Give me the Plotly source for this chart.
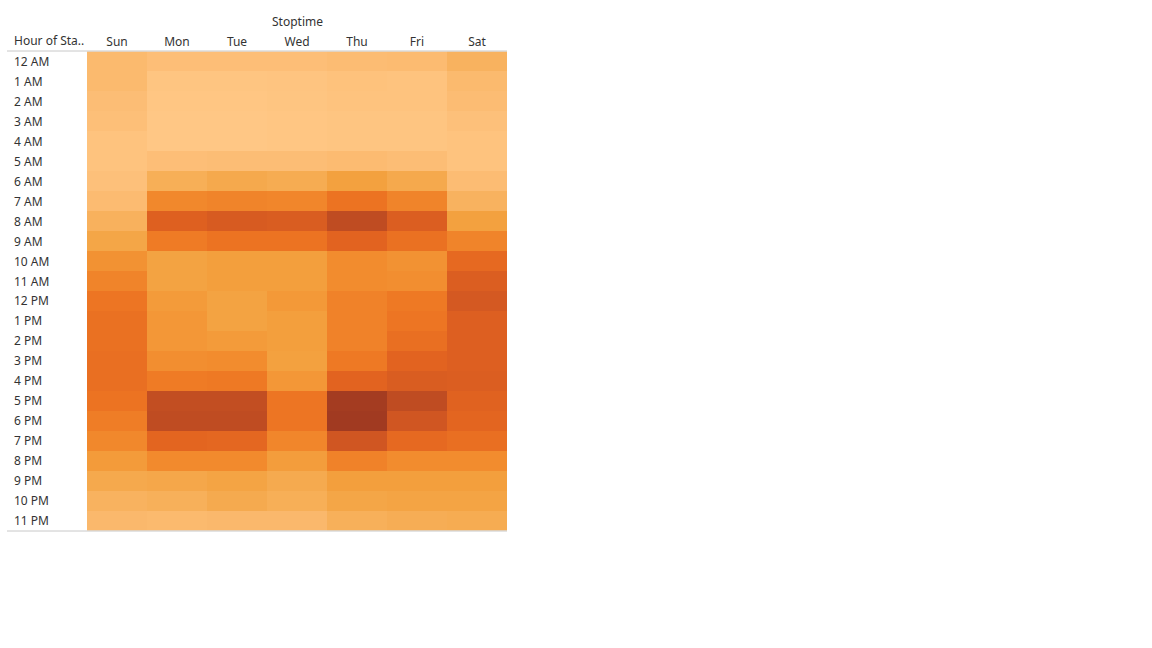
import plotly.graph_objects as go

days = ["Sun", "Mon", "Tue", "Wed", "Thu", "Fri", "Sat"]
hours = ["12 AM", "1 AM", "2 AM", "3 AM", "4 AM", "5 AM", "6 AM", "7 AM", "8 AM", "9 AM",
         "10 AM", "11 AM", "12 PM", "1 PM", "2 PM", "3 PM", "4 PM", "5 PM", "6 PM", "7 PM",
         "8 PM", "9 PM", "10 PM", "11 PM"]

# relative trip volume per hour (rows) and weekday (columns: Sun..Sat)
sun = [12, 12, 9, 7, 4, 4, 6, 11, 19, 27, 37, 44, 51, 53, 53, 54, 54, 52, 47, 42, 33, 25, 18, 13]
mon = [8, 2, 1, 0, 0, 8, 21, 42, 62, 48, 29, 29, 33, 35, 35, 39, 48, 78, 80, 59, 41, 26, 20, 12]
tue = [8, 2, 1, 0, 0, 9, 25, 44, 66, 52, 31, 31, 29, 29, 33, 40, 49, 78, 80, 58, 41, 28, 24, 13]
wed = [8, 3, 2, 1, 1, 9, 23, 43, 65, 52, 31, 31, 34, 31, 31, 30, 35, 51, 51, 43, 32, 24, 21, 13]
thu = [10, 5, 4, 2, 2, 11, 30, 52, 80, 60, 40, 40, 45, 45, 45, 49, 60, 98, 100, 70, 45, 31, 27, 20]
fri = [11, 4, 4, 2, 2, 9, 25, 44, 64, 53, 37, 39, 49, 51, 54, 60, 65, 80, 70, 57, 40, 31, 28, 22]
sat = [18, 12, 10, 6, 4, 4, 10, 18, 30, 44, 57, 64, 68, 63, 63, 63, 64, 61, 59, 54, 40, 31, 28, 23]

cols = [sun, mon, tue, wed, thu, fri, sat]
z = [[cols[d][h] for d in range(7)] for h in range(24)]

colorscale = [
    [0.0, "#ffc785"],
    [0.1, "#fcbc73"],
    [0.2, "#f7b05a"],
    [0.3, "#f3a13f"],
    [0.4, "#f28c2e"],
    [0.5, "#ee7723"],
    [0.6, "#e26320"],
    [0.7, "#d05622"],
    [0.8, "#bf4c22"],
    [1.0, "#a13a21"],
]

W, H = 1152, 648
x0, x1 = 87, 507
y0, y1 = 51, 531

fig = go.Figure(go.Heatmap(
    x=days, y=hours, z=z, colorscale=colorscale, zmin=0, zmax=100,
    showscale=False, xgap=0, ygap=0,
    hovertemplate="%{x} %{y}: %{z}<extra></extra>",
))

font_family = "Noto Sans, Open Sans, sans-serif"
text_color = "#333333"

annotations = []
for h in hours:
    annotations.append(dict(
        x=12 / W, xref="paper", y=h, yref="y", text=h, showarrow=False,
        xanchor="left", yanchor="middle", font=dict(size=12, color=text_color, family=font_family),
    ))
annotations.append(dict(
    x=12 / W, xref="paper", y=1 - 41 / H, yref="paper", text="Hour of Sta..", showarrow=False,
    xanchor="left", yanchor="middle", font=dict(size=12, color=text_color, family=font_family),
))
annotations.append(dict(
    x=297 / W, xref="paper", y=1 - 21 / H, yref="paper", text="Stoptime", showarrow=False,
    xanchor="center", yanchor="middle", font=dict(size=12, color=text_color, family=font_family),
))

shapes = [
    dict(type="line", xref="paper", yref="paper", x0=7 / W, x1=x1 / W, y0=1 - y0 / H, y1=1 - y0 / H,
         line=dict(color="#c8c8c8", width=1)),
    dict(type="line", xref="paper", yref="paper", x0=7 / W, x1=x1 / W, y0=1 - y1 / H, y1=1 - y1 / H,
         line=dict(color="#c8c8c8", width=1)),
]

fig.update_layout(
    width=W, height=H, margin=dict(l=0, r=0, t=0, b=0),
    paper_bgcolor="white", plot_bgcolor="white",
    xaxis=dict(domain=[x0 / W, x1 / W], side="top", showgrid=False, zeroline=False,
               ticks="", ticklabelstandoff=2,
               tickfont=dict(size=12, color=text_color, family=font_family),
               showline=False, fixedrange=True),
    yaxis=dict(domain=[1 - y1 / H, 1 - y0 / H], autorange="reversed", showgrid=False,
               zeroline=False, showticklabels=False, ticks="", fixedrange=True),
    annotations=annotations,
    shapes=shapes,
)

fig.write_html("out.html")
